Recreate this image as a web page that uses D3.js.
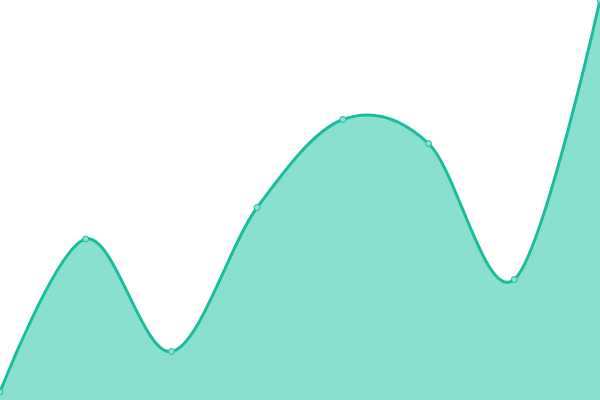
<!DOCTYPE html>
<html>
<head>
<meta charset="utf-8">
<script src="https://cdn.jsdelivr.net/npm/d3@7"></script>
<style>
  html, body { margin: 0; padding: 0; background: #fff; }
  svg { display: block; }
</style>
</head>
<body>
<svg id="drawing" width="600" height="400"></svg>
<script>
// one value per point, left to right
const categories = ["A", "B", "C", "D", "E", "F", "G", "H"];
const values = [8, 161, 48.5, 192.5, 280.5, 256.5, 120.5, 400];

const width = 600, height = 400;
const svg = d3.select("svg#drawing");

const x = d3.scalePoint()
   .domain(categories)
   .range([0, width]);

const y = d3.scaleLinear()
   .domain([0, 400])
   .range([height, 0]);

const data = categories.map((c, i) => ({ c, v: values[i] }));

const area = d3.area()
   .x(d => x(d.c))
   .y0(height)
   .y1(d => y(d.v))
   .curve(d3.curveCardinal);

const line = d3.line()
   .x(d => x(d.c))
   .y(d => y(d.v))
   .curve(d3.curveCardinal);

svg.append("path")
   .datum(data)
   .attr("fill", "#8ae0d0")
   .attr("d", area);

svg.append("path")
   .datum(data)
   .attr("fill", "none")
   .attr("stroke", "#1abc9c")
   .attr("stroke-width", 3)
   .attr("d", line);

svg.selectAll(".pt")
   .data(data)
   .enter()
   .append("circle")
      .attr("class", "pt")
      .attr("cx", d => x(d.c))
      .attr("cy", d => y(d.v))
      .attr("r", 3)
      .attr("fill", "#8ae0d0")
      .attr("stroke", "#1abc9c")
      .attr("stroke-width", 1);
</script>
</body>
</html>
